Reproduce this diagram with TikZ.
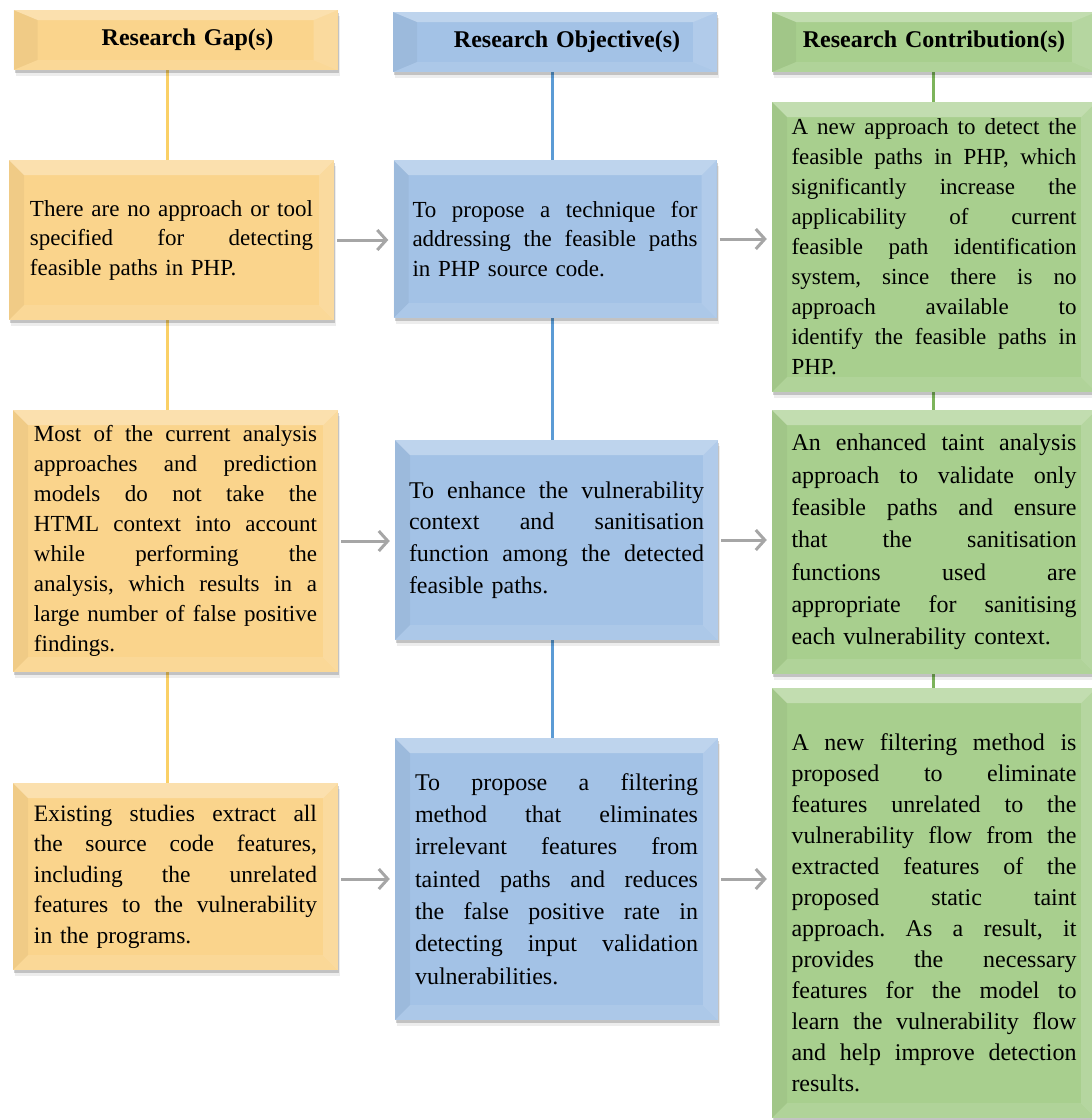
\documentclass[tikz,border=0pt]{standalone}
\usepackage{fontspec}
\setmainfont{Liberation Serif}
\usetikzlibrary{arrows.meta,shadows,backgrounds}
\definecolor{gfill}{HTML}{FAD48C}
\definecolor{ofill}{HTML}{A3C2E6}
\definecolor{cfill}{HTML}{A8CF8E}
\definecolor{glinec}{HTML}{FAD066}
\definecolor{olinec}{HTML}{5B9BD5}
\definecolor{clinec}{HTML}{7DB45B}
\definecolor{arrgray}{HTML}{A6A6A6}
\newlength{\tw}
\setlength{\tw}{283pt}
\newcommand{\J}[1]{\makebox[\tw][s]{\spaceskip=0pt\xspaceskip=0pt #1}\\}
\newcommand{\E}[1]{\makebox[\tw][l]{#1}}
\frenchspacing
\tikzset{
  bev/.style n args={2}{path picture={
    \path (path picture bounding box.north west) coordinate (bnw)
          (path picture bounding box.north east) coordinate (bne)
          (path picture bounding box.south west) coordinate (bsw)
          (path picture bounding box.south east) coordinate (bse);
    \fill[white,opacity=.30] (bnw) -- (bne) -- ([shift={(-#1,-#2)}]bne) -- ([shift={(#1,-#2)}]bnw) -- cycle;
    \fill[white,opacity=.16] (bne) -- (bse) -- ([shift={(-#1,#2)}]bse) -- ([shift={(-#1,-#2)}]bne) -- cycle;
    \fill[white,opacity=.10] (bse) -- (bsw) -- ([shift={(#1,#2)}]bsw) -- ([shift={(-#1,#2)}]bse) -- cycle;
    \fill[black,opacity=.04] (bsw) -- (bnw) -- ([shift={(#1,-#2)}]bnw) -- ([shift={(#1,#2)}]bsw) -- cycle;
  }},
  box/.style={rectangle, inner sep=0pt, align=left,
    drop shadow={shadow xshift=1pt,shadow yshift=-3pt,opacity=.18,fill=black},
    drop shadow={shadow xshift=2pt,shadow yshift=-6pt,opacity=.07,fill=black}},
  hbox/.style={box, align=center, text width=310pt, minimum height=60pt, minimum width=324pt,
    font=\fontsize{24}{28}\selectfont\bfseries, bev={24pt}{10pt}},
  gbox/.style={box, fill=gfill, text width=283pt, minimum width=325pt, bev={15pt}{15pt},
    execute at begin node={\setlength{\tw}{283pt}}},
  obox/.style={box, fill=ofill, text width=#1, minimum width=323pt, bev={15pt}{15pt},
    execute at begin node={\setlength{\tw}{#1}}},
  cbox/.style={box, fill=cfill, text width=285pt, minimum width=324pt, bev={15pt}{15pt},
    execute at begin node={\setlength{\tw}{285pt}}},
  txt/.style={inner sep=0pt, align=left, text width=285pt,
    execute at begin node={\setlength{\tw}{285pt}}},
  arr/.style={draw=arrgray, line width=3pt, -{Straight Barb[length=9pt,width=20pt]}},
  vline/.style={line width=3pt}
}
\begin{document}
\begin{tikzpicture}[x=1pt,y=-1pt]
\useasboundingbox (0,0) rectangle (1092,1120);
% headers
\node[hbox, fill=gfill] (H1) at (175.5,40) {\hspace*{24pt}Research Gap(s)};
\node[hbox, fill=ofill] (H2) at (555,42) {\hspace*{24pt}Research Objective(s)};
\node[hbox, fill=cfill] (H3) at (934,42) {Research Contribution(s)};
% gaps
\node[gbox, minimum height=160pt, font=\fontsize{23}{29.5}\selectfont] (G1) at (171.5,240)
 {\J{There are no approach or tool}\J{specified for detecting}\E{feasible paths in PHP.}};
\node[gbox, minimum height=262pt, font=\fontsize{23}{30}\selectfont] (G2) at (175.5,541)
 {\J{Most of the current analysis}\J{approaches and prediction}\J{models do not take the}\J{HTML context into account}\J{while performing the}\J{analysis, which results in a}\J{large number of false positive}\E{findings.}};
\node[gbox, minimum height=187pt, font=\fontsize{23.5}{30.5}\selectfont] (G3) at (175.5,876.5)
 {\J{Existing studies extract all}\J{the source code features,}\J{including the unrelated}\J{features to the vulnerability}\E{in the programs.}};
% objectives
\node[obox=285pt, minimum height=158pt, font=\fontsize{23}{29.5}\selectfont] (O1) at (555,239)
 {\J{To propose a technique for}\J{addressing the feasible paths}\E{in PHP source code.}};
\node[obox=295pt, minimum height=200pt, font=\fontsize{24}{31.7}\selectfont] (O2) at (556.5,540)
 {\J{To enhance the vulnerability}\J{context and sanitisation}\J{function among the detected}\E{feasible paths.}};
\node[obox=283pt, minimum height=282pt, font=\fontsize{24}{32.3}\selectfont] (O3) at (556.5,879)
 {\J{To propose a filtering}\J{method that eliminates}\J{irrelevant features from}\J{tainted paths and reduces}\J{the false positive rate in}\J{detecting input validation}\E{vulnerabilities.}};
% contributions
\node[cbox, minimum height=290pt, font=\fontsize{23}{30}\selectfont] (C1) at (934,247)
 {\J{A new approach to detect the}\J{feasible paths in PHP, which}\J{significantly increase the}\J{applicability of current}\J{feasible path identification}\J{system, since there is no}\J{approach available to}\J{identify the feasible paths in}\E{PHP.}};
\node[cbox, minimum height=264pt, font=\fontsize{24}{32.3}\selectfont] (C2) at (934,542)
 {\J{An enhanced taint analysis}\J{approach to validate only}\J{feasible paths and ensure}\J{that the sanitisation}\J{functions used are}\J{appropriate for sanitising}\E{each vulnerability context.}};
\node[cbox, minimum height=430pt] (C3) at (934,903) {};
\node[txt, font=\fontsize{24}{31}\selectfont] (C3t) at ([yshift=-10pt]C3.center)
 {\J{A new filtering method is}\J{proposed to eliminate}\J{features unrelated to the}\J{vulnerability flow from the}\J{extracted features of the}\J{proposed static taint}\J{approach. As a result, it}\J{provides the necessary}\J{features for the model to}\J{learn the vulnerability flow}\J{and help improve detection}\E{results.}};
% vertical connectors
\begin{scope}[on background layer]
\coordinate (gtop) at ([xshift=-8pt]H1.south);
\coordinate (otop) at ([xshift=-3pt]H2.south);
\coordinate (ctop) at ([xshift=-1pt]H3.south);
\draw[vline, glinec] (gtop) -- (gtop |- G3.north);
\draw[vline, olinec] (otop) -- (otop |- O3.north);
\draw[vline, clinec] (ctop) -- (ctop |- C3.north);
\end{scope}
% arrows
\coordinate (a1) at (G1.east -| O1.west);
\coordinate (a2) at (G2.east -| O2.west);
\coordinate (a3) at (O3.center -| G3.east);
\coordinate (b1) at (O1.east -| C1.west);
\coordinate (b2) at (O2.east -| C2.west);
\coordinate (b3) at (O3.east -| C3.west);
\draw[arr] ([xshift=3pt]G1.east) -- ([xshift=-5pt]a1);
\draw[arr] ([xshift=3pt]G2.east) -- ([xshift=-5pt]a2);
\draw[arr] ([xshift=3pt]a3) -- ([xshift=-5pt]O3.west);
\draw[arr] ([xshift=3pt]O1.east) -- ([xshift=-5pt]b1);
\draw[arr] ([xshift=3pt]O2.east) -- ([xshift=-5pt]b2);
\draw[arr] ([xshift=3pt]O3.east) -- ([xshift=-5pt]b3);
\end{tikzpicture}
\end{document}
